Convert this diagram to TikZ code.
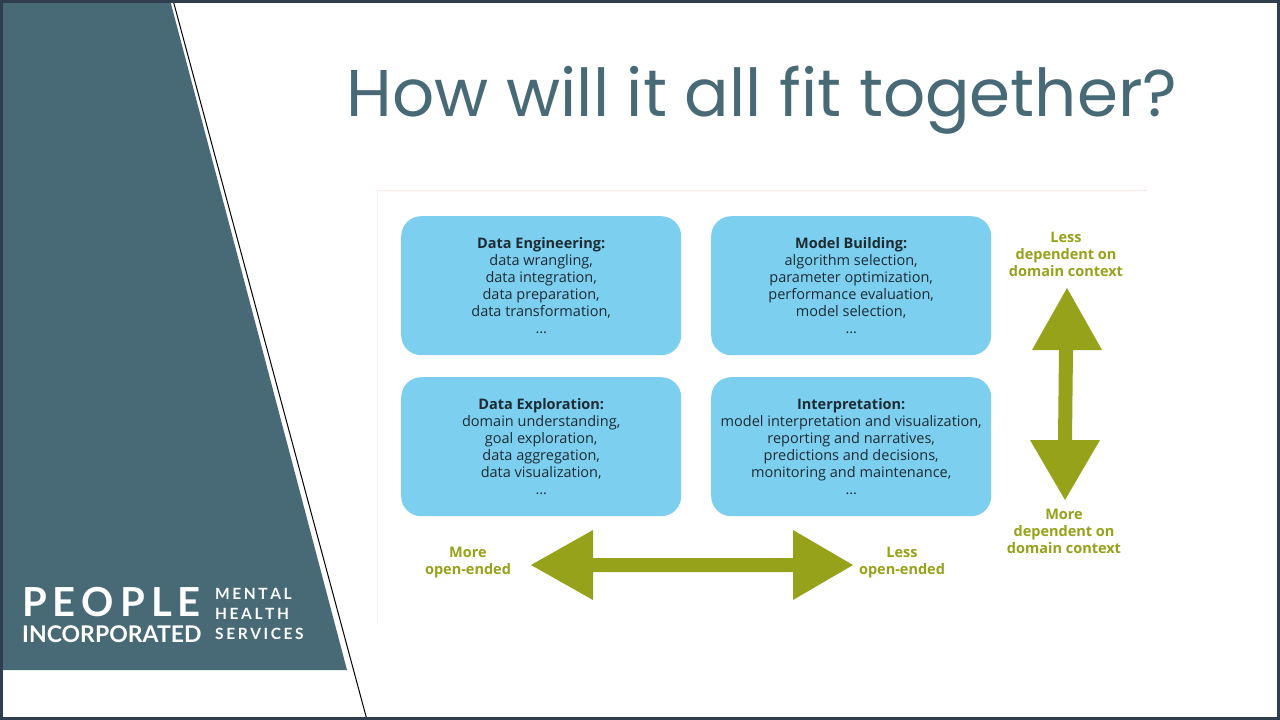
\documentclass[tikz,border=0pt]{standalone}
\usepackage{fontspec}
\setmainfont{Open Sans}
\newfontfamily\titlef{Poppins}
\newfontfamily\logof{Lato}
\usetikzlibrary{shapes.geometric}
\definecolor{teal}{HTML}{476A76}
\definecolor{frame}{HTML}{2F3E4E}
\definecolor{boxc}{HTML}{7DCFF0}
\definecolor{olive}{HTML}{97A21B}
\definecolor{txt}{HTML}{1E2B33}
\begin{document}
\begin{tikzpicture}[x=1pt,y=-1pt,
  box/.style={fill=boxc,draw=none,rounded corners=20pt,minimum width=280pt,minimum height=139pt,anchor=north west,align=center,text=txt,font=\fontsize{14.5}{17}\selectfont},
  lab/.style={text=olive,font=\bfseries\fontsize{14.5}{17}\selectfont,align=center}]
\useasboundingbox (0,0) rectangle (1280,720);
\fill[white] (0,0) rectangle (1280,720);
\fill[teal] (0,0) -- (170,0) -- (347,670) -- (0,670) -- cycle;
\draw[black,line width=1pt] (173,0) -- (367,720);
\draw[frame,line width=3pt] (1.5,1.5) rectangle (1278.5,718.5);
\node[text=teal,font=\titlef\fontsize{66}{70}\selectfont] (title) at (762,100) {How will it all fit together?};
\draw[red!10,line width=1pt] (377,190) -- (1147,190);
\draw[black!5,line width=1pt] (377,190) -- (377,622);
\node[box] (de) at (401,216) {\textbf{Data Engineering:}\\data wrangling,\\data integration,\\data preparation,\\data transformation,\\\dots};
\node[box] (mb) at (711,216) {\textbf{Model Building:}\\algorithm selection,\\parameter optimization,\\performance evaluation,\\model selection,\\\dots};
\node[box] (dx) at (401,377) {\textbf{Data Exploration:}\\domain understanding,\\goal exploration,\\data aggregation,\\data visualization,\\\dots};
\node[box] (in) at (711,377) {\textbf{Interpretation:}\\model interpretation and visualization,\\reporting and narratives,\\predictions and decisions,\\monitoring and maintenance,\\\dots};
\fill[olive] (531,565) -- (593,530) -- (593,558) -- (793,558) -- (793,530) -- (853,565) -- (793,600) -- (793,572) -- (593,572) -- (593,600) -- cycle;
\fill[olive] (1067,288) -- (1102,350) -- (1073,350) -- (1072,440) -- (1100,440) -- (1065,500) -- (1030,440) -- (1058,440) -- (1059,350) -- (1032,350) -- cycle;
\node[lab] (ld) at (1066,254) {Less\\dependent on\\domain context};
\node[lab] (md) at (1064,531) {More\\dependent on\\domain context};
\node[lab] (mo) at (468,563) {More\\open-ended};
\node[lab] (lo) at (902,563) {Less\\open-ended};
\node[text=white,font=\logof\bfseries\fontsize{40}{40}\selectfont,anchor=west,inner sep=0] (p) at (22,602) {P\hspace{6pt}E\hspace{6pt}O\hspace{6pt}P\hspace{6pt}L\hspace{6pt}E};
\node[text=white,font=\logof\bfseries\fontsize{23}{22}\selectfont,anchor=west,inner sep=0] (inc) at (22,634) {INCORPORATED};
\node[text=white,font=\logof\bfseries\fontsize{15.5}{20}\selectfont,anchor=west,align=left,inner sep=0] (mh) at (215,614) {M\,E\,N\,T\,A\,L\\H\,E\,A\,L\,T\,H\\S\,E\,R\,V\,I\,C\,E\,S};
\end{tikzpicture}
\end{document}
